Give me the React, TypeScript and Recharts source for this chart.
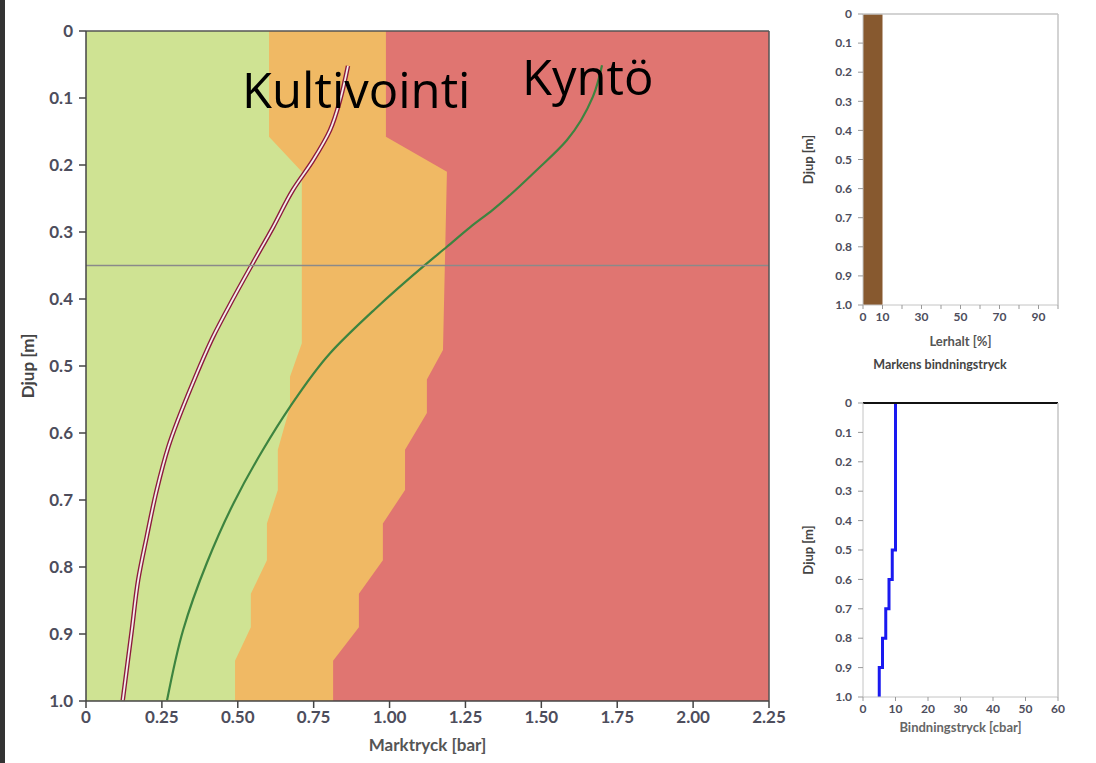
import { Area, ComposedChart, Line, ReferenceArea, ReferenceLine, XAxis, YAxis } from "recharts"

// depth axis (m), shared by all three panels
const depthTicks = [0, 0.1, 0.2, 0.3, 0.4, 0.5, 0.6, 0.7, 0.8, 0.9, 1.0]
const pressureTicks = [0, 0.25, 0.5, 0.75, 1.0, 1.25, 1.5, 1.75, 2.0, 2.25]

// zone limits in the main panel (bar)
const greenLimitDepth = [0, 0.158, 0.21, 0.466, 0.516, 0.561, 0.625, 0.685, 0.735, 0.79, 0.84, 0.89, 0.94, 1.0]
const greenLimitValue = [0.603, 0.603, 0.711, 0.711, 0.672, 0.672, 0.632, 0.632, 0.596, 0.596, 0.543, 0.543, 0.491, 0.491]
const redLimitDepth = [0, 0.158, 0.21, 0.476, 0.52, 0.57, 0.625, 0.685, 0.735, 0.79, 0.84, 0.89, 0.94, 1.0]
const redLimitValue = [0.988, 0.988, 1.189, 1.176, 1.123, 1.123, 1.051, 1.051, 0.978, 0.978, 0.899, 0.899, 0.814, 0.814]

// soil pressure curves
const kultivointiDepth = [0.052, 0.103, 0.148, 0.193, 0.237, 0.293, 0.346, 0.4, 0.457, 0.521, 0.621, 0.685, 0.755, 0.819, 0.894, 0.999]
const kultivointiValue = [0.863, 0.837, 0.804, 0.748, 0.682, 0.616, 0.55, 0.484, 0.418, 0.356, 0.271, 0.233, 0.2, 0.172, 0.151, 0.121]
const kyntoDepth = [0.051, 0.098, 0.163, 0.207, 0.267, 0.293, 0.322, 0.348, 0.416, 0.481, 0.561, 0.625, 0.704, 0.794, 0.894, 0.999]
const kyntoValue = [1.7, 1.67, 1.584, 1.486, 1.34, 1.265, 1.189, 1.12, 0.95, 0.804, 0.672, 0.583, 0.487, 0.398, 0.32, 0.267]

// right panels
const clayDepth = [0, 1.0]
const clayValue = [10, 10]
const clayTicks = [0, 10, 20, 30, 40, 50, 60, 70, 80, 90, 100]
const clayLabels = [0, 10, 30, 50, 70, 90]
const tensionDepth = [0, 0.5, 0.6, 0.7, 0.8, 0.9, 1.0]
const tensionValue = [10, 9, 8, 7, 6, 5, 5]
const tensionTicks = [0, 10, 20, 30, 40, 50, 60]

const zip = (depths: number[], values: number[]) => depths.map((depth, i) => ({ depth, value: values[i] }))

const greenData = zip(greenLimitDepth, greenLimitValue)
const redData = zip(redLimitDepth, redLimitValue)
const kultivointiData = zip(kultivointiDepth, kultivointiValue)
const kyntoData = zip(kyntoDepth, kyntoValue)
const clayData = zip(clayDepth, clayValue)
const tensionData = zip(tensionDepth, tensionValue)

const depthFormat = (v: number) => (v === 0 ? "0" : v.toFixed(1))
const font = "Lato, 'Open Sans', sans-serif"
const axisColor = "#444"
const tickColor = "#4d4d5c"
const lightBorder = "#c4c4c4"

function MainChart() {
  return (
    <ComposedChart
      width={790}
      height={763}
      layout="vertical"
      margin={{ top: 31, right: 21, bottom: 10, left: 10 }}
    >
      <XAxis
        type="number"
        dataKey="value"
        domain={[0, 2.25]}
        ticks={pressureTicks}
        allowDataOverflow
        height={52}
        tickFormatter={(v: number) => (v === 0 ? "0" : v.toFixed(2))}
        tick={{ fill: tickColor, fontSize: 17, fontFamily: font, fontWeight: 700 }}
        stroke={axisColor}
        strokeWidth={1.5}
        tickSize={7}
        tickMargin={3}
        label={{ value: "Marktryck [bar]", position: "insideBottom", offset: 2, fill: "#555", fontSize: 17, fontFamily: font, fontWeight: 700 }}
      />
      <YAxis
        type="number"
        dataKey="depth"
        domain={[0, 1]}
        ticks={depthTicks}
        allowDataOverflow
        width={76}
        tickFormatter={depthFormat}
        tick={{ fill: tickColor, fontSize: 17, fontFamily: font, fontWeight: 700 }}
        stroke={axisColor}
        strokeWidth={1.5}
        tickSize={7}
        tickMargin={6}
        label={{ value: "Djup [m]", angle: -90, position: "insideLeft", offset: 18, fill: "#444", fontSize: 17, fontFamily: font, fontWeight: 700, style: { textAnchor: "middle" } }}
      />
      <ReferenceArea x1={0} x2={2.25} y1={0} y2={1} fill="#e07571" fillOpacity={1} stroke="none" />
      <Area data={redData} dataKey="value" type="linear" fill="#f0b964" fillOpacity={1} stroke="none" isAnimationActive={false} />
      <Area data={greenData} dataKey="value" type="linear" fill="#cfe393" fillOpacity={1} stroke="none" isAnimationActive={false} />
      <Line data={kultivointiData} dataKey="value" type="monotone" stroke="#8c1a3c" strokeWidth={4.5} dot={false} isAnimationActive={false} />
      <Line data={kultivointiData} dataKey="value" type="monotone" stroke="#f4eeee" strokeWidth={1.8} dot={false} isAnimationActive={false} />
      <Line data={kyntoData} dataKey="value" type="monotone" stroke="#3d8440" strokeWidth={2.2} dot={false} isAnimationActive={false} />
      <ReferenceLine y={0.35} stroke="#8a8a8a" strokeWidth={1.5} />
      <ReferenceLine y={0} stroke="#555" strokeWidth={1.5} />
      <ReferenceLine x={2.25} stroke="#555" strokeWidth={1.5} />
    </ComposedChart>
  )
}

function ClayChart() {
  return (
    <ComposedChart width={296} height={380} layout="vertical" margin={{ top: 14, right: 38, bottom: 25, left: 0 }}>
      <XAxis
        type="number"
        dataKey="value"
        domain={[0, 100]}
        ticks={clayTicks}
        allowDataOverflow
        height={50}
        tickFormatter={(v: number) => (clayLabels.includes(v) ? String(v) : "")}
        tick={{ fill: tickColor, fontSize: 12, fontFamily: font, fontWeight: 700 }}
        stroke={lightBorder}
        tickLine={{ stroke: "#999" }}
        tickSize={4}
        tickMargin={3}
        label={{ value: "Lerhalt [%]", position: "insideBottom", offset: 9, fill: "#555", fontSize: 13, fontFamily: font, fontWeight: 700 }}
      />
      <YAxis
        type="number"
        dataKey="depth"
        domain={[0, 1]}
        ticks={depthTicks}
        allowDataOverflow
        width={63}
        tickFormatter={depthFormat}
        tick={{ fill: tickColor, fontSize: 12, fontFamily: font, fontWeight: 700 }}
        stroke={lightBorder}
        tickLine={{ stroke: "#999" }}
        tickSize={5}
        tickMargin={6}
        label={{ value: "Djup [m]", angle: -90, position: "insideLeft", offset: 8, fill: "#444", fontSize: 13, fontFamily: font, fontWeight: 700, style: { textAnchor: "middle" } }}
      />
      <Area data={clayData} dataKey="value" type="linear" fill="#87592f" fillOpacity={1} stroke="none" isAnimationActive={false} />
      <ReferenceLine y={0} stroke={lightBorder} strokeWidth={1.5} />
      <ReferenceLine x={100} stroke={lightBorder} strokeWidth={1.5} />
    </ComposedChart>
  )
}

function TensionChart() {
  return (
    <ComposedChart width={296} height={383} layout="vertical" margin={{ top: 23, right: 38, bottom: 26, left: 0 }}>
      <XAxis
        type="number"
        dataKey="value"
        domain={[0, 60]}
        ticks={tensionTicks}
        allowDataOverflow
        height={40}
        tick={{ fill: tickColor, fontSize: 12, fontFamily: font, fontWeight: 700 }}
        stroke={lightBorder}
        tickLine={{ stroke: "#999" }}
        tickSize={4}
        tickMargin={3}
        label={{ value: "Bindningstryck [cbar]", position: "insideBottom", offset: 5, fill: "#666", fontSize: 13, fontFamily: font, fontWeight: 700 }}
      />
      <YAxis
        type="number"
        dataKey="depth"
        domain={[0, 1]}
        ticks={depthTicks}
        allowDataOverflow
        width={63}
        tickFormatter={depthFormat}
        tick={{ fill: tickColor, fontSize: 12, fontFamily: font, fontWeight: 700 }}
        stroke={lightBorder}
        tickLine={{ stroke: "#999" }}
        tickSize={5}
        tickMargin={6}
        label={{ value: "Djup [m]", angle: -90, position: "insideLeft", offset: 8, fill: "#444", fontSize: 13, fontFamily: font, fontWeight: 700, style: { textAnchor: "middle" } }}
      />
      <Line data={tensionData} dataKey="value" type="stepBefore" stroke="#1a1af0" strokeWidth={3} dot={false} isAnimationActive={false} />
      <ReferenceLine y={0} stroke="#111" strokeWidth={2} />
      <ReferenceLine x={60} stroke={lightBorder} strokeWidth={1.5} />
    </ComposedChart>
  )
}

export default function App() {
  return (
    <div style={{ position: "absolute", left: 0, top: 0, width: 1096, height: 763, background: "#fff", overflow: "hidden" }}>
      <div style={{ position: "absolute", left: 0, top: 0, width: 5, height: 763, background: "#333" }} />
      <div style={{ position: "absolute", left: 0, top: 0 }}>
        <MainChart />
      </div>
      <div style={{ position: "absolute", left: 800, top: 0 }}>
        <ClayChart />
      </div>
      <div style={{ position: "absolute", left: 800, top: 380 }}>
        <TensionChart />
      </div>
      <svg width={1096} height={763} style={{ position: "absolute", left: 0, top: 0, pointerEvents: "none" }}>
        <text x={242} y={108} fontSize={49} fontFamily="'Open Sans', sans-serif" fill="#000">Kultivointi</text>
        <text x={522} y={95} fontSize={49} fontFamily="'Open Sans', sans-serif" fill="#000">Kyntö</text>
        <text x={940} y={369} fontSize={12.5} fontFamily={font} fontWeight={700} fill="#444" textAnchor="middle">Markens bindningstryck</text>
      </svg>
    </div>
  )
}
